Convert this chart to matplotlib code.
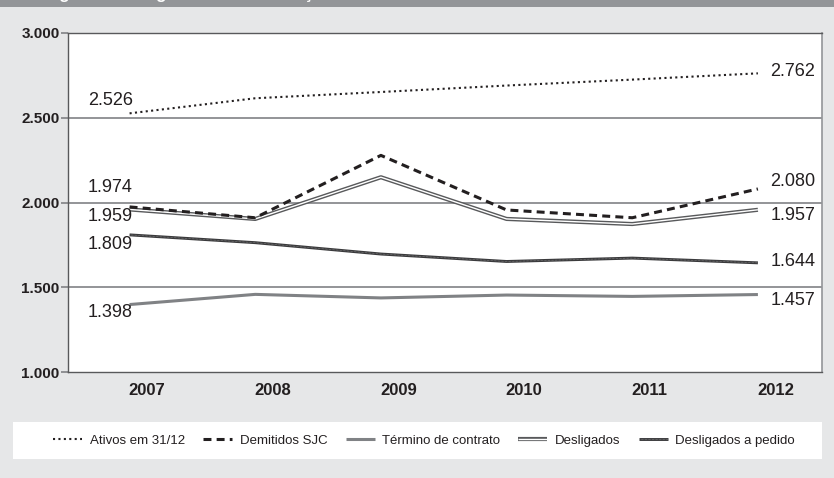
import numpy as np
import matplotlib.pyplot as plt
from matplotlib.patches import Rectangle
from matplotlib.lines import Line2D

# dados
anos = ['2007', '2008', '2009', '2010', '2011', '2012']
ativos = [2526, 2615, 2652, 2690, 2725, 2762]
demitidos_sjc = [1974, 1910, 2278, 1956, 1910, 2080]
termino_contrato = [1398, 1458, 1437, 1454, 1446, 1457]
desligados = [1959, 1903, 2149, 1903, 1873, 1957]
desligados_pedido = [1809, 1763, 1696, 1652, 1672, 1644]

bg = '#e6e7e8'
txt = '#231f20'
fonte = 'Liberation Sans'
x = np.arange(len(anos))

fig = plt.figure(figsize=(8.34, 4.78), dpi=100, facecolor=bg)

# faixa do título (cortada no topo, só aparecem as partes de baixo das letras)
fig.patches.append(Rectangle((0, 1 - 7 / 478), 1, 7 / 478, transform=fig.transFigure,
                             facecolor='#939598', edgecolor='none', zorder=0))
fig.text(20 / 834, 1 + 1 / 478, 'Desligamentos e gestão da contratação', color='white',
         fontsize=12, fontweight='bold', family=fonte, va='baseline')

ax = fig.add_axes([68 / 834, 1 - 372 / 478, 754 / 834, 339 / 478])
ax.set_facecolor('white')

# estilos das séries
st_ativos = dict(color='#231f20', lw=1.5, linestyle=(0, (1, 1.6)))
st_dem = dict(color='#231f20', lw=2.2, linestyle=(0, (2.6, 1.7)))
st_term = dict(color='#808285', lw=2.2, solid_capstyle='butt')
st_desl_a = dict(color='#58595b', lw=3.0, solid_capstyle='butt')
st_desl_b = dict(color='white', lw=1.0, solid_capstyle='butt')
st_ped_a = dict(color='#3a3a3c', lw=2.1, solid_capstyle='butt')
st_ped_b = dict(color='#9a9a9a', lw=0.5, linestyle=(0, (0.8, 1.2)))

ax.plot(x, ativos, zorder=3, **st_ativos)
ax.plot(x, termino_contrato, zorder=3, **st_term)
ax.plot(x, desligados, zorder=3, **st_desl_a)
ax.plot(x, desligados, zorder=3, **st_desl_b)
ax.plot(x, desligados_pedido, zorder=3, **st_ped_a)
ax.plot(x, desligados_pedido, zorder=3, **st_ped_b)
ax.plot(x, demitidos_sjc, zorder=4, **st_dem)

ax.set_xlim(-0.49, 5.51)
ax.set_ylim(1000, 3000)

# rótulos de valores
lab = dict(fontsize=13, color=txt, family=fonte, va='center')
esq = [(ativos, 9), (demitidos_sjc, 14), (desligados, -5), (desligados_pedido, -7), (termino_contrato, -6)]
for serie, dy in esq:
    ax.annotate(f'{serie[0]:,}'.replace(',', '.'), (0, serie[0]), xytext=(-14, dy),
                textcoords='offset points', ha='center', **lab)
dir_ = [(ativos, 1), (demitidos_sjc, 5), (desligados, -4), (desligados_pedido, 1), (termino_contrato, -4)]
for serie, dy in dir_:
    ax.annotate(f'{serie[-1]:,}'.replace(',', '.'), (5, serie[-1]), xytext=(9, dy),
                textcoords='offset points', ha='left', **lab)

# eixos
ax.set_yticks([1000, 1500, 2000, 2500, 3000])
ax.set_yticklabels(['1.000', '1.500', '2.000', '2.500', '3.000'])
for yv in [1500, 2000, 2500]:
    ax.axhline(yv, color='#808285', lw=1.2, zorder=1)
ax.set_xticks(x + 0.14)
ax.set_xticklabels(anos)
ax.tick_params(axis='x', length=0, pad=8, labelsize=12, labelcolor=txt)
ax.tick_params(axis='y', length=5, width=1.2, color='#808285', pad=1, labelsize=11, labelcolor=txt)
for t in ax.get_xticklabels() + ax.get_yticklabels():
    t.set_fontweight('bold')
    t.set_family(fonte)
for s in ['left', 'bottom', 'top']:
    ax.spines[s].set_color('#58595b')
    ax.spines[s].set_linewidth(1.0)
ax.spines['right'].set_color('#939598')
ax.spines['right'].set_linewidth(1.2)

# legenda
fig.patches.append(Rectangle((13 / 834, 1 - 459 / 478), 809 / 834, 37 / 478,
                             transform=fig.transFigure, facecolor='white',
                             edgecolor='none', zorder=0))
h_ativos = Line2D([], [], **st_ativos)
h_dem = Line2D([], [], **st_dem)
h_term = Line2D([], [], **st_term)
h_desl = (Line2D([], [], **st_desl_a), Line2D([], [], **st_desl_b))
h_ped = (Line2D([], [], **st_ped_a), Line2D([], [], **st_ped_b))
leg = fig.legend([h_ativos, h_dem, h_term, h_desl, h_ped],
                 ['Ativos em 31/12', 'Demitidos SJC', 'Término de contrato', 'Desligados',
                  'Desligados a pedido'],
                 loc='center', bbox_to_anchor=(424 / 834, 1 - 440.5 / 478), ncol=5,
                 frameon=False, handlelength=2.2, handletextpad=0.55, columnspacing=1.4,
                 prop={'family': fonte, 'size': 9.5})
for t in leg.get_texts():
    t.set_color(txt)

fig.savefig('out.png', dpi=100, facecolor=bg)
